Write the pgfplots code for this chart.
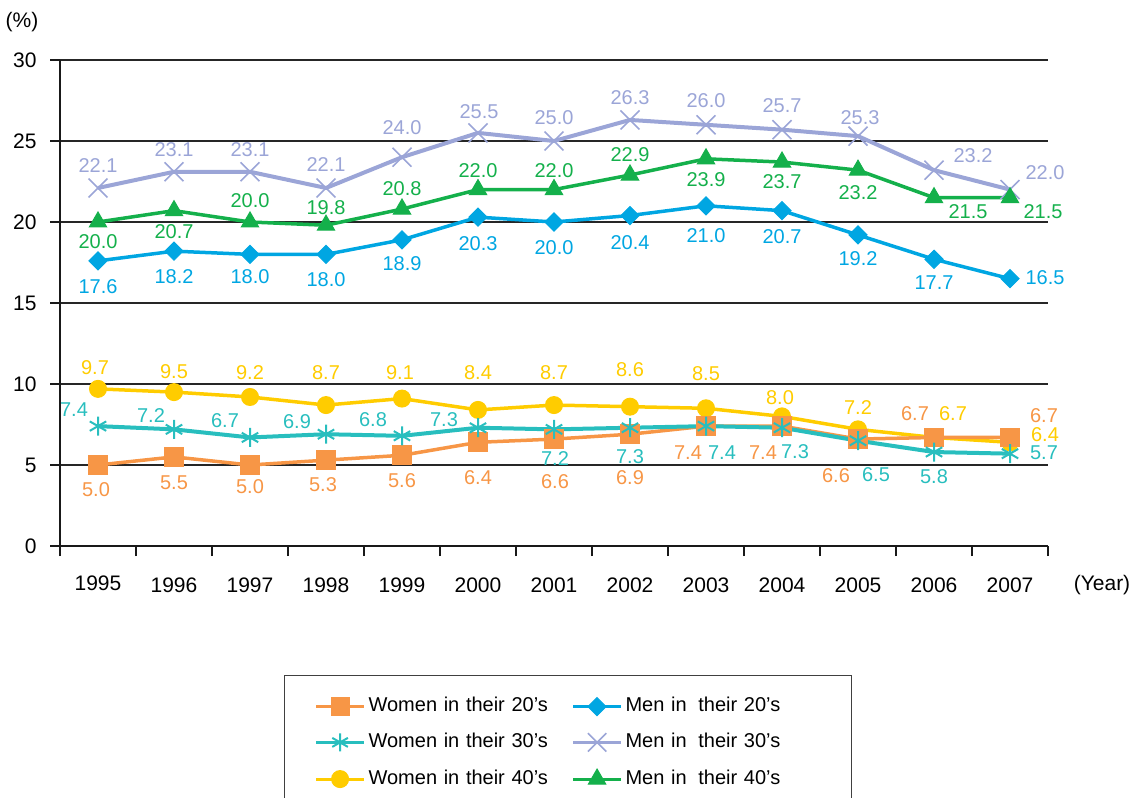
\documentclass[border=0pt]{standalone}
\usepackage{fontspec}
\setmainfont{Liberation Sans}
\usepackage{pgfplots}
\pgfplotsset{compat=1.18}
\usepackage{pgfplotstable}

\definecolor{cWa}{RGB}{247,150,70}
\definecolor{cWb}{RGB}{40,190,190}
\definecolor{cWc}{RGB}{255,204,0}
\definecolor{cMa}{RGB}{0,166,226}
\definecolor{cMb}{RGB}{155,165,215}
\definecolor{cMc}{RGB}{20,176,75}

\pgfplotstableread{
x y dx dy
0 5.0 -1 -12.5
1 5.5 0 -13
2 5.0 0 -11
3 5.3 -1.5 -12
4 5.6 0 -12.5
5 6.4 0 -17.5
6 6.6 0.5 -21.5
7 6.9 0 -21.5
8 7.4 -9 -13
9 7.4 -9.5 -13
10 6.6 -11 -18.5
11 6.7 -9.5 12
12 6.7 17 11
}\tWa
\pgfplotstableread{
x y dx dy
0 7.4 -12 8.5
1 7.2 -11.5 7
2 6.7 -12.5 8.5
3 6.9 -14.5 6.5
4 6.8 -14.5 8
5 7.3 -17 4
6 7.2 0.5 -14.5
7 7.3 0 -14.5
8 7.4 8 -13
9 7.3 6.5 -12
10 6.5 9 -17
11 5.8 0 -12.5
12 5.7 17 0.5
}\tWb
\pgfplotstableread{
x y dx dy
0 9.7 -1.5 10.5
1 9.5 0 10
2 9.2 0 12
3 8.7 0 16
4 9.1 -1 13
5 8.4 0 18.5
6 8.7 0 16
7 8.6 0 18.5
8 8.5 0 17.5
9 8.0 -1 9.5
10 7.2 0 11
11 6.7 9.5 12
12 6.4 17.5 4
}\tWc
\pgfplotstableread{
x y dx dy
0 17.6 0 -13
1 18.2 0 -12.5
2 18.0 0 -11
3 18.0 0 -12.5
4 18.9 0 -12
5 20.3 0 -13
6 20.0 0 -13
7 20.4 0 -13.5
8 21.0 0 -15
9 20.7 0 -13
10 19.2 0 -12
11 17.7 0 -11.5
12 16.5 17.5 0.5
}\tMa
\pgfplotstableread{
x y dx dy
0 22.1 0 11
1 23.1 0 11
2 23.1 0 11
3 22.1 0 11.5
4 24.0 0 15
5 25.5 0.5 10.5
6 25.0 0 11.5
7 26.3 0 11
8 26.0 0 12
9 25.7 0 12
10 25.3 1 9.5
11 23.2 19.5 7.5
12 22.0 17.5 8.5
}\tMb
\pgfplotstableread{
x y dx dy
0 20.0 0 -10
1 20.7 0 -10.5
2 20.0 0 10.5
3 19.8 0 9
4 20.8 0 10
5 22.0 0 9.5
6 22.0 0 9.5
7 22.9 0 10
8 23.9 0 -10.5
9 23.7 0 -10
10 23.2 0 -11
11 21.5 17 -7
12 21.5 16.5 -7
}\tMc

\pgfplotsset{
  lbl/.style={
    nodes near coords,
    point meta=explicit symbolic,
    visualization depends on={\thisrow{dx}\as\dx},
    visualization depends on={\thisrow{dy}\as\dy},
    every node near coord/.append style={anchor=center, xshift=\dx pt, yshift=\dy pt,
      font=\fontsize{10}{11}\selectfont, text=#1, inner sep=0pt}
  }
}

\begin{document}
\begin{tikzpicture}
\begin{axis}[
  at={(0,0)}, anchor=south west,
  scale only axis, width=494pt, height=243pt,
  xmin=-0.5, xmax=12.5, ymin=0, ymax=30,
  clip=false,
  axis lines=left,
  axis line style={-, line width=1.25pt, black!90},
  ytick={0,5,...,30},
  ymajorgrids, grid style={line width=0.75pt, black!85},
  xtick={-0.5,0.5,...,12.5}, xticklabels={},
  extra x ticks={0,1,...,12},
  extra x tick labels={\raisebox{2pt}{1995},1996,1997,1998,1999,2000,2001,2002,2003,2004,2005,2006,2007},
  extra x tick style={major tick length=0pt, grid=none},
  tick align=outside, major tick length=5pt,
  tick style={line width=1pt, black!90},
  tick label style={font=\fontsize{10.5}{12}\selectfont},
  /pgf/number format/assume math mode=true,
  xticklabel style={anchor=center, yshift=-19.5pt},
  yticklabel style={anchor=east, inner sep=0pt, xshift=-6.5pt},
  legend columns=2,
  legend cell align=left,
  legend image code/.code={\draw[mark repeat=2,mark phase=2,#1] plot coordinates {(0pt,0pt) (12pt,0pt) (24pt,0pt)};},
  legend style={
    at={(0.2267,-0.2654)}, anchor=north west,
    draw=black!75, line width=0.6pt,
    inner xsep=15pt, inner ysep=11pt,
    font=\fontsize{10}{11}\selectfont,
    nodes={text width=98pt, align=left, inner sep=0pt, text height=7pt, text depth=2pt},
    row sep=8.75pt,
    /tikz/every odd column/.append style={column sep=1.5pt},
    /tikz/every even column/.append style={column sep=3.5pt},
  },
]
\addplot[cMb, line width=2pt, mark=x, mark size=6.7pt, mark options={solid, line width=0.8pt}, lbl=cMb, forget plot]
  table[x=x, y=y, meta=y]{\tMb};
\addplot[cMc, line width=1.75pt, mark=triangle*, mark size=5pt, mark options={solid, line width=0.5pt}, lbl=cMc, forget plot]
  table[x=x, y=y, meta=y]{\tMc};
\addplot[cMa, line width=1.75pt, mark=square*, mark size=3.2pt, mark options={solid, rotate=45, line width=0.5pt}, lbl=cMa, forget plot]
  table[x=x, y=y, meta=y]{\tMa};
\addplot[cWc, line width=1.75pt, mark=*, mark size=4.25pt, mark options={solid, line width=0.5pt}, lbl=cWc, forget plot]
  table[x=x, y=y, meta=y]{\tWc};
\addplot[cWa, line width=1.75pt, mark=square*, mark size=4.7pt, mark options={solid, line width=0.5pt}, lbl=cWa, forget plot]
  table[x=x, y=y, meta=y]{\tWa};
\addplot[cWb, line width=2pt, mark=asterisk, mark size=4.75pt, mark options={solid, line width=1pt}, lbl=cWb, forget plot]
  table[x=x, y=y, meta=y]{\tWb};

\addlegendimage{cWa, line width=1.5pt, mark=square*, mark size=4.5pt, mark options={solid, line width=0.5pt}}
\addlegendentry{Women in their 20’s}
\addlegendimage{cMa, line width=1.5pt, mark=square*, mark size=3.2pt, mark options={solid, rotate=45, line width=0.5pt}}
\addlegendentry{Men in\hspace{0.25em} their 20’s}
\addlegendimage{cWb, line width=1.5pt, mark=asterisk, mark size=4.5pt, mark options={solid, line width=1pt}}
\addlegendentry{Women in their 30’s}
\addlegendimage{cMb, line width=1.5pt, mark=x, mark size=6.5pt, mark options={solid, line width=0.8pt}}
\addlegendentry{Men in\hspace{0.25em} their 30’s}
\addlegendimage{cWc, line width=1.5pt, mark=*, mark size=4.25pt, mark options={solid, line width=0.5pt}}
\addlegendentry{Women in their 40’s}
\addlegendimage{cMc, line width=1.5pt, mark=triangle*, mark size=5pt, mark options={solid, line width=0.5pt}}
\addlegendentry{Men in\hspace{0.25em} their 40’s}
\end{axis}
\node[font=\fontsize{10.5}{12}\selectfont] at (-19pt,262pt) {(\%)};
\node[font=\fontsize{10.5}{12}\selectfont] at (521pt,-19.5pt) {(Year)};
\pgfresetboundingbox
\useasboundingbox (-30pt,-125.5pt) rectangle (539.5pt,273pt);
\end{tikzpicture}
\end{document}
